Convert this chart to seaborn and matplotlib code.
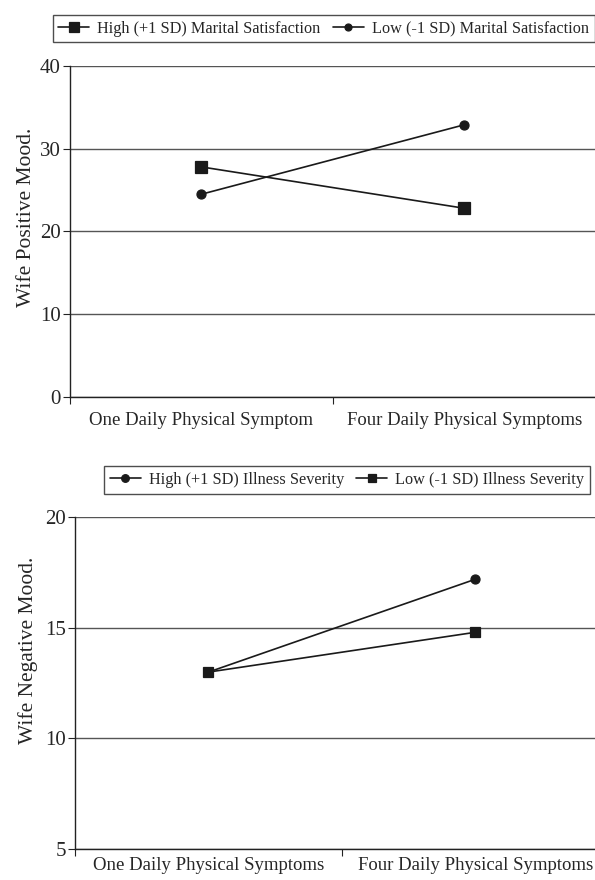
import seaborn as sns
import matplotlib.pyplot as plt
import pandas as pd

# data
cats_top = ['One Daily Physical Symptom', 'Four Daily Physical Symptoms']
cats_bot = ['One Daily Physical Symptoms', 'Four Daily Physical Symptoms']

top_groups = ['High (+1 SD) Marital Satisfaction', 'Low (-1 SD) Marital Satisfaction']
top_high = [27.8, 22.8]
top_low = [24.5, 32.9]

bot_groups = ['High (+1 SD) Illness Severity', 'Low (-1 SD) Illness Severity']
bot_high = [13.0, 17.2]
bot_low = [13.0, 14.8]

top_df = pd.DataFrame({
    'cond': cats_top * 2,
    'mood': top_high + top_low,
    'group': [top_groups[0]] * 2 + [top_groups[1]] * 2,
})
bot_df = pd.DataFrame({
    'cond': cats_bot * 2,
    'mood': bot_high + bot_low,
    'group': [bot_groups[0]] * 2 + [bot_groups[1]] * 2,
})

sns.set_style("white")
plt.rcParams['font.family'] = ['Liberation Serif', 'DejaVu Serif']
plt.rcParams['axes.edgecolor'] = '#222222'

fig = plt.figure(figsize=(5.95, 8.80), dpi=100)
ax1 = fig.add_axes([0.1176, 0.549, 0.884, 0.376])
ax2 = fig.add_axes([0.126, 0.0352, 0.8975, 0.377])


def draw(ax, df, order, groups, markers, sizes, leg_sizes, ylim, yticks,
         ylabel, label_xy, leg_box, xpad):
    sns.pointplot(data=df, x='cond', y='mood', hue='group', order=order,
                  hue_order=groups, markers=markers, linestyles=['-', '-'],
                  palette=['#1a1a1a', '#1a1a1a'], errorbar=None,
                  linewidth=1.2, markersize=7, ax=ax)
    for line, ms in zip(ax.lines, sizes):
        line.set_markersize(ms)
    ax.set_xlim(-0.5, 1.5)
    ax.set_ylim(*ylim)
    ax.set_yticks(yticks)
    ax.set_xlabel('')
    ax.set_ylabel(ylabel, fontsize=15.5)
    ax.yaxis.set_label_coords(*label_xy)
    ax.set_xticks([-0.5, 0.5, 1.5], minor=True)
    ax.tick_params(axis='x', which='major', length=0, labelsize=13.5, pad=xpad)
    ax.tick_params(axis='x', which='minor', length=5, direction='out', width=0.8,
                   bottom=True, color='#222222')
    ax.tick_params(axis='y', length=5, direction='out', left=True, width=0.8,
                   labelsize=15, pad=1.5, color='#222222')
    ax.yaxis.grid(True, color='#555555', linewidth=1.0)
    ax.set_axisbelow(True)
    for s in ax.spines.values():
        s.set_linewidth(1.0)
    ax.spines['top'].set_visible(False)
    handles, labels = ax.get_legend_handles_labels()
    ax.get_legend().remove()
    for h, ms in zip(handles, leg_sizes):
        h.set_markersize(ms)
    leg = fig.legend(handles, labels, ncol=2, loc='center', bbox_to_anchor=leg_box,
                     fontsize=11.7, frameon=True, fancybox=False, handlelength=1.9,
                     handletextpad=0.5, columnspacing=0.75, borderpad=0.35)
    leg.get_frame().set_edgecolor('#222222')
    leg.get_frame().set_linewidth(1.0)


draw(ax1, top_df, cats_top, top_groups, ['s', 'o'], [8, 6.5], [7, 5], (0, 40),
     [0, 10, 20, 30, 40], 'Wife Positive Mood.', (-0.065, 0.542),
     (0.544, 0.9676), 11)
draw(ax2, bot_df, cats_bot, bot_groups, ['o', 's'], [6.5, 6.5], [5.5, 5.5], (5, 20),
     [5, 10, 15, 20], 'Wife Negative Mood.', (-0.07, 0.60),
     (0.583, 0.4545), 5.5)

fig.savefig('out.png', dpi=100)
